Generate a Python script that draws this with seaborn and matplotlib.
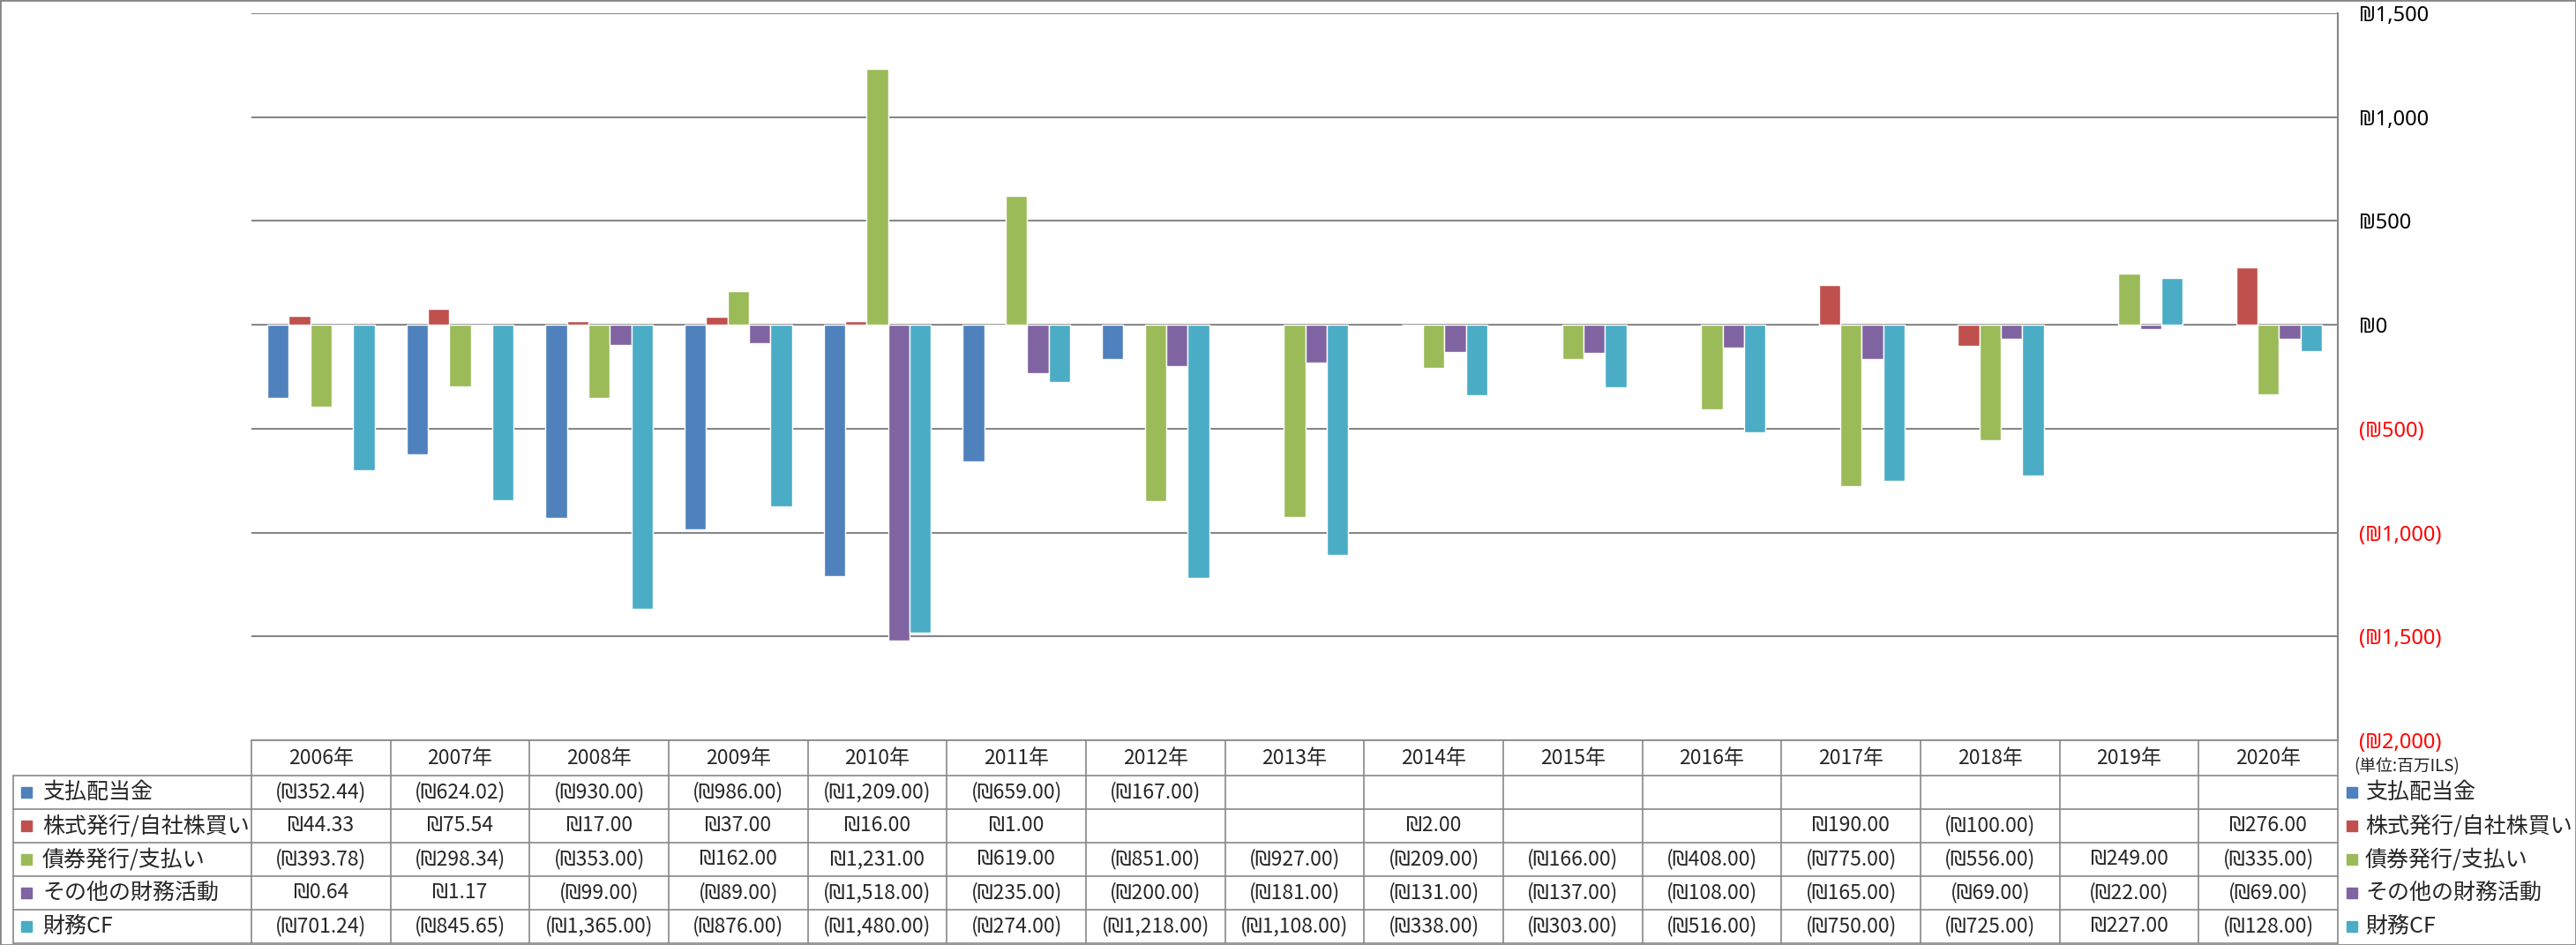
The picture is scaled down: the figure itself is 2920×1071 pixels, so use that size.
"""財務CFの内訳（2006年〜2020年）棒グラフ＋データテーブル"""
import numpy as np
import pandas as pd
import matplotlib
matplotlib.use("Agg")
import matplotlib.pyplot as plt
from matplotlib.patches import Rectangle
import seaborn as sns

nan = np.nan

years = [f"{y}年" for y in range(2006, 2021)]
series_names = ["支払配当金", "株式発行/自社株買い", "債券発行/支払い", "その他の財務活動", "財務CF"]
colors = ["#4F81BD", "#C0504D", "#9BBB59", "#8064A2", "#4BACC6"]

dividends = [-352.44, -624.02, -930.00, -986.00, -1209.00, -659.00, -167.00,
             nan, nan, nan, nan, nan, nan, nan, nan]
stock = [44.33, 75.54, 17.00, 37.00, 16.00, 1.00, nan, nan, 2.00, nan, nan,
         190.00, -100.00, nan, 276.00]
bonds = [-393.78, -298.34, -353.00, 162.00, 1231.00, 619.00, -851.00, -927.00,
         -209.00, -166.00, -408.00, -775.00, -556.00, 249.00, -335.00]
other = [0.64, 1.17, -99.00, -89.00, -1518.00, -235.00, -200.00, -181.00,
         -131.00, -137.00, -108.00, -165.00, -69.00, -22.00, -69.00]
fin_cf = [-701.24, -845.65, -1365.00, -876.00, -1480.00, -274.00, -1218.00,
          -1108.00, -338.00, -303.00, -516.00, -750.00, -725.00, 227.00, -128.00]

y_ticks = [-2000, -1500, -1000, -500, 0, 500, 1000, 1500]
unit_note = "(単位:百万ILS)"

series_values = [dividends, stock, bonds, other, fin_cf]


def fmt_cell(v):
    if np.isnan(v):
        return ""
    s = f"₪{abs(v):,.2f}"
    return f"({s})" if v < 0 else s


def fmt_axis(v):
    s = f"₪{abs(v):,.0f}"
    return f"({s})" if v < 0 else s


rows = []
for name, vals in zip(series_names, series_values):
    for yr, v in zip(years, vals):
        rows.append({"year": yr, "series": name, "value": v})
df = pd.DataFrame(rows)

sns.set_style("white")
plt.rcParams["font.family"] = ["Noto Sans CJK JP", "DejaVu Sans"]

W, H = 2920, 1071
fig = plt.figure(figsize=(W / 100, H / 100), dpi=100)

# 位置（ピクセル）
px_left, px_right = 285, 2650
px_top, px_plot_bottom = 15, 839
px_table_bottom = 1069
px_label_left = 15
grid_color = "#878787"

ax = fig.add_axes([px_left / W, 1 - px_plot_bottom / H,
                   (px_right - px_left) / W, (px_plot_bottom - px_top) / H])
sns.barplot(data=df.dropna(), x="year", y="value", hue="series",
            order=years, hue_order=series_names, palette=colors,
            width=0.77, errorbar=None, saturation=1, legend=False, ax=ax, zorder=3)
ax.set_xlim(-0.5, len(years) - 0.5)
ax.set_ylim(y_ticks[0], y_ticks[-1])
ax.set_xlabel("")
ax.set_ylabel("")
ax.set_xticks([])
ax.yaxis.tick_right()
ax.set_yticks(y_ticks)
ax.set_yticklabels([fmt_axis(v) for v in y_ticks], fontsize=17,
                   family=["Noto Sans", "DejaVu Sans"])
for lbl, v in zip(ax.get_yticklabels(), y_ticks):
    lbl.set_color("red" if v < 0 else "black")
ax.tick_params(axis="y", length=0, pad=17)
for v in y_ticks:
    ax.axhline(v, color=grid_color, lw=1.5, zorder=1)
for side in ["top", "left", "bottom"]:
    ax.spines[side].set_visible(False)
ax.spines["right"].set_color(grid_color)
ax.spines["right"].set_linewidth(1.5)

# データテーブル
col_px = (px_right - px_left) / len(years)
hh = 40 / 38
tax = fig.add_axes([px_left / W, 1 - px_table_bottom / H,
                    (px_right - px_left) / W, (px_table_bottom - px_plot_bottom) / H])
tax.set_xlim(-0.5, len(years) - 0.5)
tax.set_ylim(len(series_names), -hh)
tax.axis("off")
x_lab = -0.5 - (px_left - px_label_left) / col_px
x_end = len(years) - 0.5
lkw = dict(color=grid_color, lw=1.2, clip_on=False)
tax.plot([-0.5, x_end], [-hh, -hh], **lkw)
for r in range(len(series_names) + 1):
    tax.plot([x_lab, x_end], [r, r], **lkw)
for k in range(len(years) + 1):
    tax.plot([k - 0.5, k - 0.5], [-hh, len(series_names)], **lkw)
tax.plot([x_lab, x_lab], [0, len(series_names)], **lkw)

for i, yr in enumerate(years):
    tax.text(i, -hh / 2, yr, ha="center", va="center", fontsize=16.5)
for r, (name, vals, c) in enumerate(zip(series_names, series_values, colors)):
    for i, v in enumerate(vals):
        tax.text(i, r + 0.5, fmt_cell(v), ha="center", va="center", fontsize=16.5)
    # 左の凡例キー
    tax.plot([x_lab + 15 / col_px], [r + 0.5], marker="s", ms=8, color=c,
             clip_on=False, ls="none")
    tax.text(x_lab + 33 / col_px, r + 0.5, name, ha="left", va="center", fontsize=18)
    # 右の凡例
    tax.plot([x_end + 16 / col_px], [r + 0.5], marker="s", ms=8, color=c,
             clip_on=False, ls="none")
    tax.text(x_end + 31 / col_px, r + 0.5, name, ha="left", va="center",
             fontsize=18, clip_on=False)

fig.text(2668 / W, 1 - 869 / H, unit_note, ha="left", va="center", fontsize=13.5,
         color="#222222")

fig.patches.append(Rectangle((0, 0), 1, 1, transform=fig.transFigure, fill=False,
                             edgecolor=grid_color, lw=2))

fig.savefig("out.png", dpi=100)
